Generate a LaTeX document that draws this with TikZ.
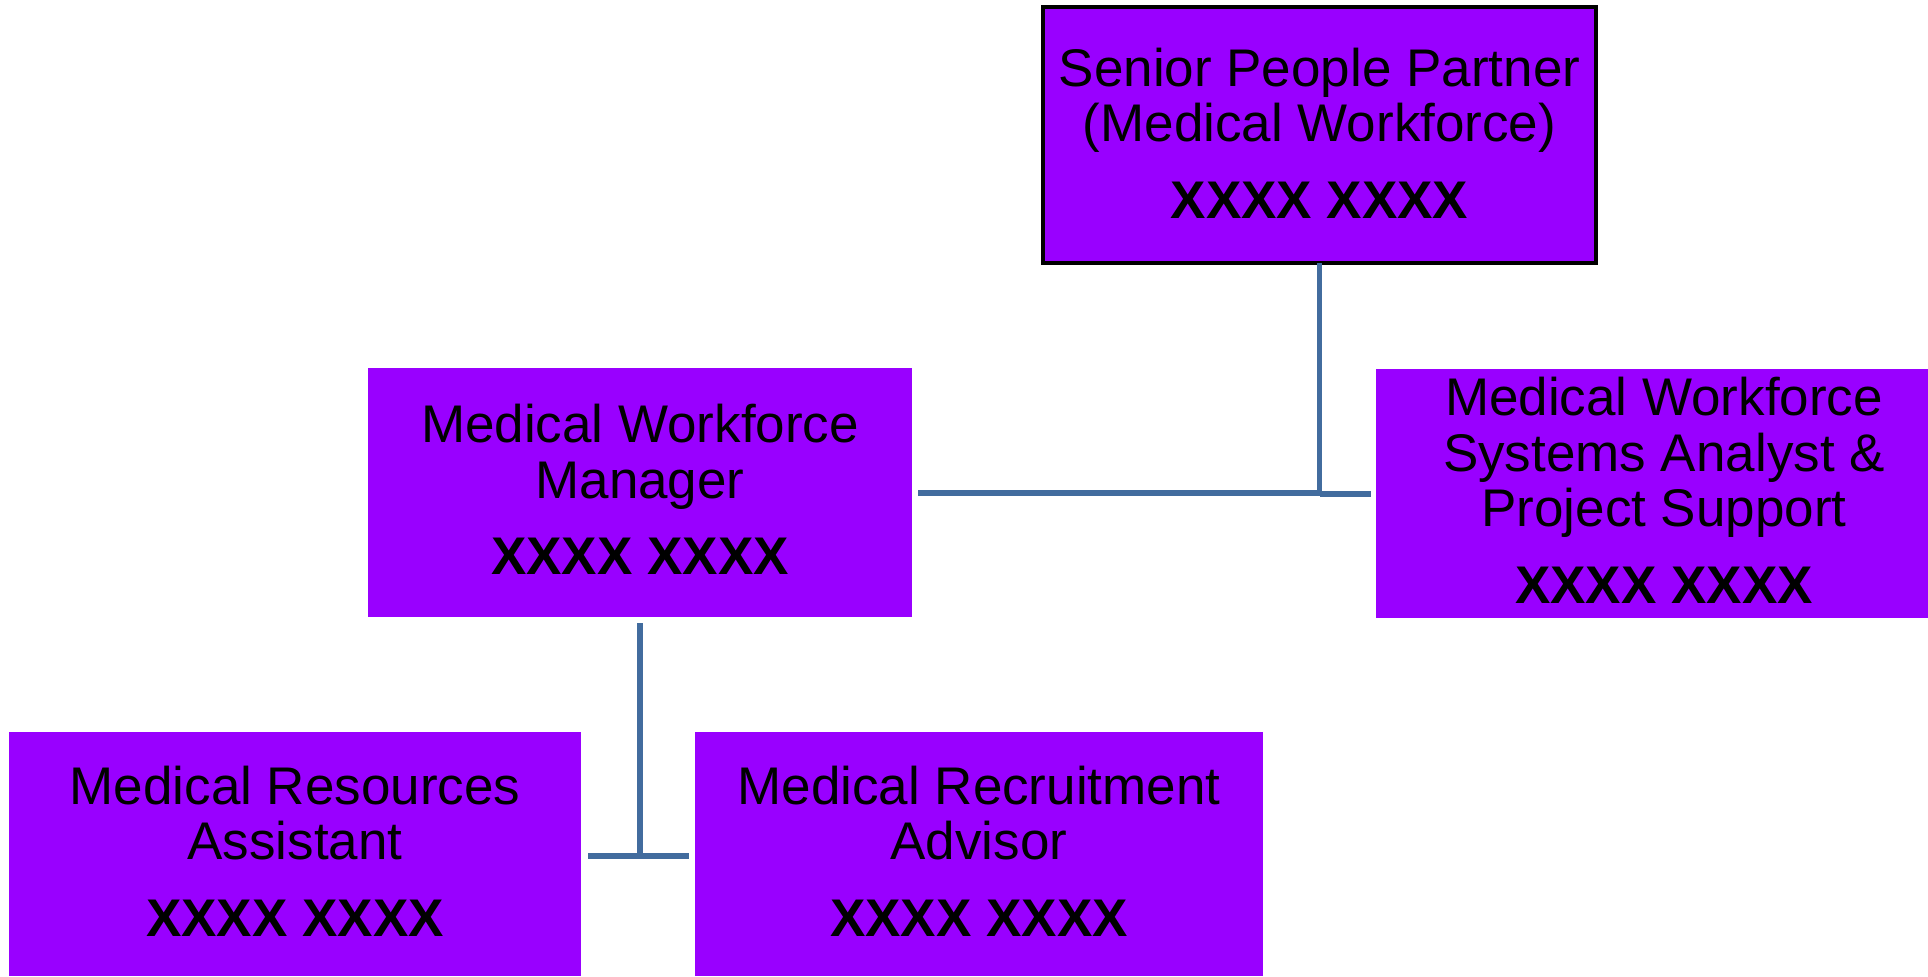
\documentclass[tikz,border=0pt]{standalone}
\usepackage{fontspec}
\setmainfont{Liberation Sans}
\definecolor{boxfill}{RGB}{153,0,255}
\definecolor{linkblue}{RGB}{66,108,158}
\newcommand{\lowpad}{\rule[-6bp]{0pt}{0pt}}
\begin{document}
\begin{tikzpicture}[x=1bp,y=-1bp,
  orgbox/.style={rectangle, fill=boxfill, inner sep=0pt, outer sep=0pt, align=center,
    font=\fontsize{53bp}{55.5bp}\selectfont},
  link/.style={draw=linkblue, line width=5.2bp}]
\useasboundingbox (0,0) rectangle (1928,976);
\node[orgbox, draw=black, line width=4.8bp, minimum width=553bp, minimum height=256bp] (spp) at (1319.5,135)
  {Senior People Partner\\(Medical Workforce)\\[21bp]\textbf{XXXX XXXX}\rule[-4bp]{0pt}{0pt}};
\node[orgbox, minimum width=544bp, minimum height=249bp] (mwm) at (640,492.5)
  {Medical Workforce\\Manager\\[21bp]\textbf{XXXX XXXX}\lowpad};
\node[orgbox, minimum width=576bp, minimum height=249bp] (mwsa) at (1664,493.5)
  {Medical Workforce\\Systems Analyst \&\\Project Support\\[21bp]\textbf{XXXX XXXX}\lowpad};
\node[orgbox, minimum width=572bp, minimum height=244bp] (mra) at (295,854)
  {Medical Resources\\Assistant\\[21bp]\textbf{XXXX XXXX}\lowpad};
\node[orgbox, minimum width=568bp, minimum height=244bp] (mrad) at (979,854)
  {Medical Recruitment\\Advisor\\[21bp]\textbf{XXXX XXXX}\lowpad};
% connectors
\coordinate (j1) at (spp.south |- 0,493);
\coordinate (h1a) at ([xshift=6bp]mwm.east |- j1);
\coordinate (j1b) at ([yshift=-1bp]j1);
\coordinate (h1b) at ([xshift=-5bp]mwsa.west |- j1b);
\draw[link] (spp.south) -- (j1);
\draw[link] (h1a) -- (j1);
\draw[link] (j1b) -- (h1b);
\coordinate (v2a) at ([yshift=-6bp]mwm.south);
\coordinate (j2) at (mwm.south |- 0,856);
\coordinate (h2a) at ([xshift=7bp]mra.east |- j2);
\coordinate (h2b) at ([xshift=-6bp]mrad.west |- j2);
\draw[link] (v2a) -- (j2);
\draw[link] (h2a) -- (h2b);
\end{tikzpicture}
\end{document}
